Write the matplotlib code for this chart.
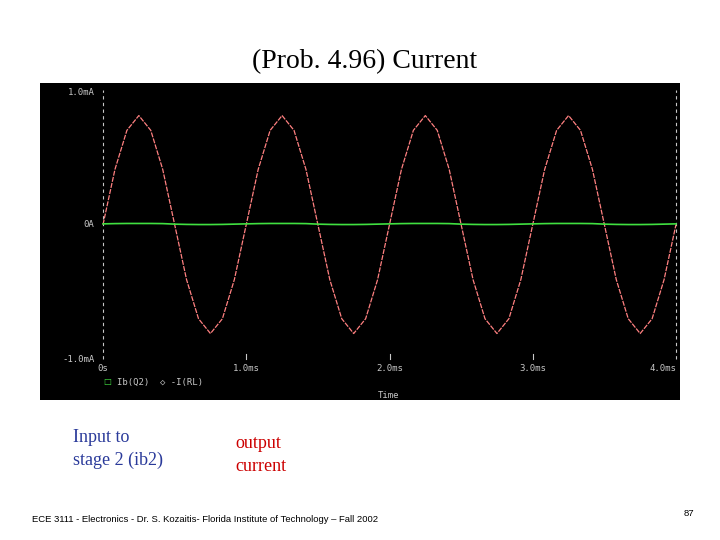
import matplotlib
matplotlib.use("Agg")
import matplotlib.pyplot as plt

# time in ms, sampled every 1/12 ms
t_ms = [i / 12 for i in range(49)]
out_current = [0, .41, .70, .81, .70, .41, 0, -.41, -.70, -.81, -.70, -.41,
               0, .41, .70, .81, .70, .41, 0, -.41, -.70, -.81, -.70, -.41,
               0, .41, .70, .81, .70, .41, 0, -.41, -.70, -.81, -.70, -.41,
               0, .41, .70, .81, .70, .41, 0, -.41, -.70, -.81, -.70, -.41, 0]
ib2 = [0.005, 0.007, 0.008, 0.008, 0.008, 0.007, 0.003, 0.001, 0.0, 0.0, 0.001, 0.003] * 4 + [0.005]
xticks = [0, 1, 2, 3, 4]
xtick_labels = ["0s", "1.0ms", "2.0ms", "3.0ms", "4.0ms"]

fig = plt.figure(figsize=(7.2, 5.4), dpi=100)
fig.patch.set_facecolor("white")
ax = fig.add_axes([40/720, 1-400/540, 640/720, 317/540])
ax.set_facecolor("black")
ax.set_xlim(-0.44, 4.028)
ax.set_ylim(-1.304, 1.052)
for s in ax.spines.values():
    s.set_visible(False)
ax.set_xticks([]); ax.set_yticks([])

g = "#c8c8c8"
ax.plot([0, 0], [-1, 1], color=g, lw=0.8, ls=(0, (3, 3)))
ax.plot([4.0, 4.0], [-1, 1], color=g, lw=0.8, ls=(0, (3, 3)))
for x in xticks[1:4]:
    ax.plot([x, x], [-1, -0.96], color=g, lw=0.8)
ax.plot(t_ms, out_current, color="#ff8080", lw=0.9, ls=(0, (4, 1)))
ax.plot(t_ms, ib2, color="#40e040", lw=1.2)
mono = dict(family="DejaVu Sans Mono", color=g, fontsize=6.5)
for x, lab in zip(xticks, xtick_labels):
    ha = "right" if x == 4 else "center"
    ax.text(x, -1.07, lab, ha=ha, va="center", **mono)
ax.text(-0.06, 0.98, "1.0mA", ha="right", va="center", **mono)
ax.text(-0.06, 0.0, "0A", ha="right", va="center", **mono)
ax.text(-0.06, -1.0, "-1.0mA", ha="right", va="center", **mono)
ax.text(0.0, -1.17, "\u25a1", ha="left", va="center", color="#40e040", fontsize=6)
ax.text(0.1, -1.17, "Ib(Q2)  \u25c7 -I(RL)", ha="left", va="center", **mono)
ax.text(1.92, -1.27, "Time", ha="left", va="center", **mono)

fig.text(365/720, 1-62/540, "(Prob. 4.96) Current", ha="center", va="center",
         family="Liberation Serif", fontsize=20)
fig.text(73/720, 1-449/540, "Input to\nstage 2 (ib2)", ha="left", va="center",
         family="Liberation Serif", fontsize=13, color="#2a3a9a", linespacing=1.5)
fig.text(235/720, 1-455/540, "output\ncurrent", ha="left", va="center",
         family="Liberation Serif", fontsize=13, color="#cc0000", linespacing=1.5)
fig.text(32/720, 1-519/540, "ECE 3111 - Electronics - Dr. S. Kozaitis- Florida Institute of Technology \u2013 Fall 2002",
         ha="left", va="center", family="Liberation Sans", fontsize=6.8)
fig.text(694/720, 1-513/540, "87", ha="right", va="center", family="Liberation Sans", fontsize=6.8)
fig.savefig("out.png", dpi=100)
